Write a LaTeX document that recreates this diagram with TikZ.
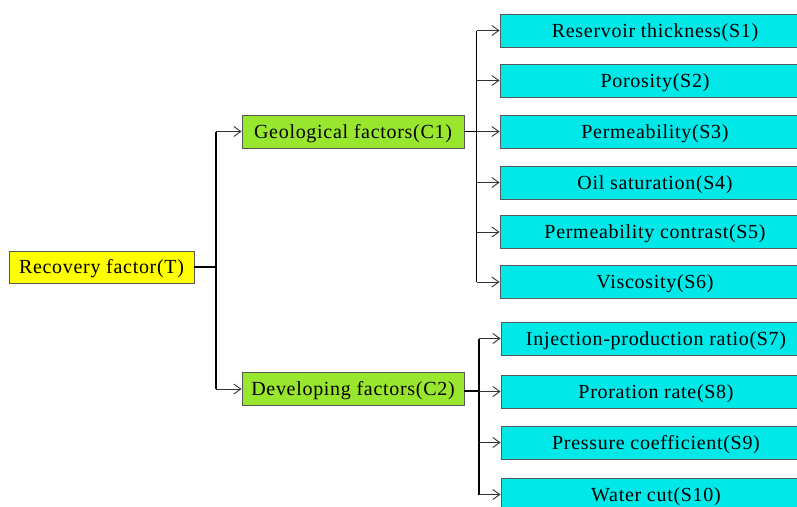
\documentclass[tikz,border=0pt]{standalone}
\usepackage{fontspec}
\setmainfont[LetterSpace=3.5]{Liberation Serif}
\usetikzlibrary{arrows.meta}
\usetikzlibrary{positioning}

\definecolor{rootyellow}{RGB}{255,255,0}
\definecolor{midgreen}{RGB}{153,230,46}
\definecolor{leafcyan}{RGB}{0,232,232}

\tikzset{
	factor/.style={draw=black!65, line width=0.9pt, inner sep=0pt, text height=15pt, text depth=2pt,
		font=\fontsize{20}{23}\selectfont},
	rootbox/.style={factor, fill=rootyellow, minimum width=185pt, minimum height=32pt},
	midbox/.style={factor, fill=midgreen, minimum width=222pt, minimum height=33pt},
	leafbox/.style={factor, fill=leafcyan, minimum width=310pt, minimum height=33pt},
	trunk/.style={draw=black, line width=1.6pt},
	branch/.style={draw=black!80, line width=0.9pt, -{Straight Barb[length=7pt,width=10pt]}}
}

\begin{document}
\begin{tikzpicture}[x=1pt, y=-1pt]
	\useasboundingbox (0,0) rectangle (797,506);
	\clip (0,0) rectangle (797,506);

	% root and main factors
	\node[rootbox] (T) at (101.5,267) {Recovery factor(T)};
	\node[midbox] (C1) at (353,131.5) {Geological factors(C1)};
	\node[midbox] (C2) at (353,389) {Developing factors(C2)};

	% sub factors
	\foreach \name/\y/\txt in {S1/30.5/Reservoir thickness(S1), S2/80.5/Porosity(S2),
		S3/131.5/Permeability(S3), S4/182.5/Oil saturation(S4),
		S5/232/Permeability contrast(S5), S6/282/Viscosity(S6)}
		\node[leafbox] (\name) at (655,\y) {\txt};
	\foreach \name/\y/\txt in {S7/338.5/Injection-production ratio(S7), S8/391.5/Proration rate(S8),
		S9/442.5/Pressure coefficient(S9), S10/494.5/Water cut(S10)}
		\node[leafbox] (\name) at (656,\y) {\txt};

	% joints
	\coordinate (j0) at (216,267);
	\coordinate (j1) at (476.5,131.5);
	\coordinate (j2) at (479,391);

	\draw[trunk] (T.east) -- (j0);
	\draw[trunk] (j0 |- C1.west) -- (j0 |- C2.west);
	\draw[branch] (j0 |- C1.west) -- (C1.west);
	\draw[branch] (j0 |- C2.west) -- (C2.west);

	\draw[trunk] (C1.east) -- (j1);
	\draw[trunk] (j1 |- S1.west) -- (j1 |- S6.west);
	\foreach \s in {S1,S2,S3,S4,S5,S6}
		\draw[branch] (j1 |- \s.west) -- (\s.west);

	\draw[trunk] (C2.east |- j2) -- (j2);
	\draw[trunk] (j2 |- S7.west) -- (j2 |- S10.west);
	\foreach \s in {S7,S8,S9,S10}
		\draw[branch] (j2 |- \s.west) -- (\s.west);
\end{tikzpicture}
\end{document}
